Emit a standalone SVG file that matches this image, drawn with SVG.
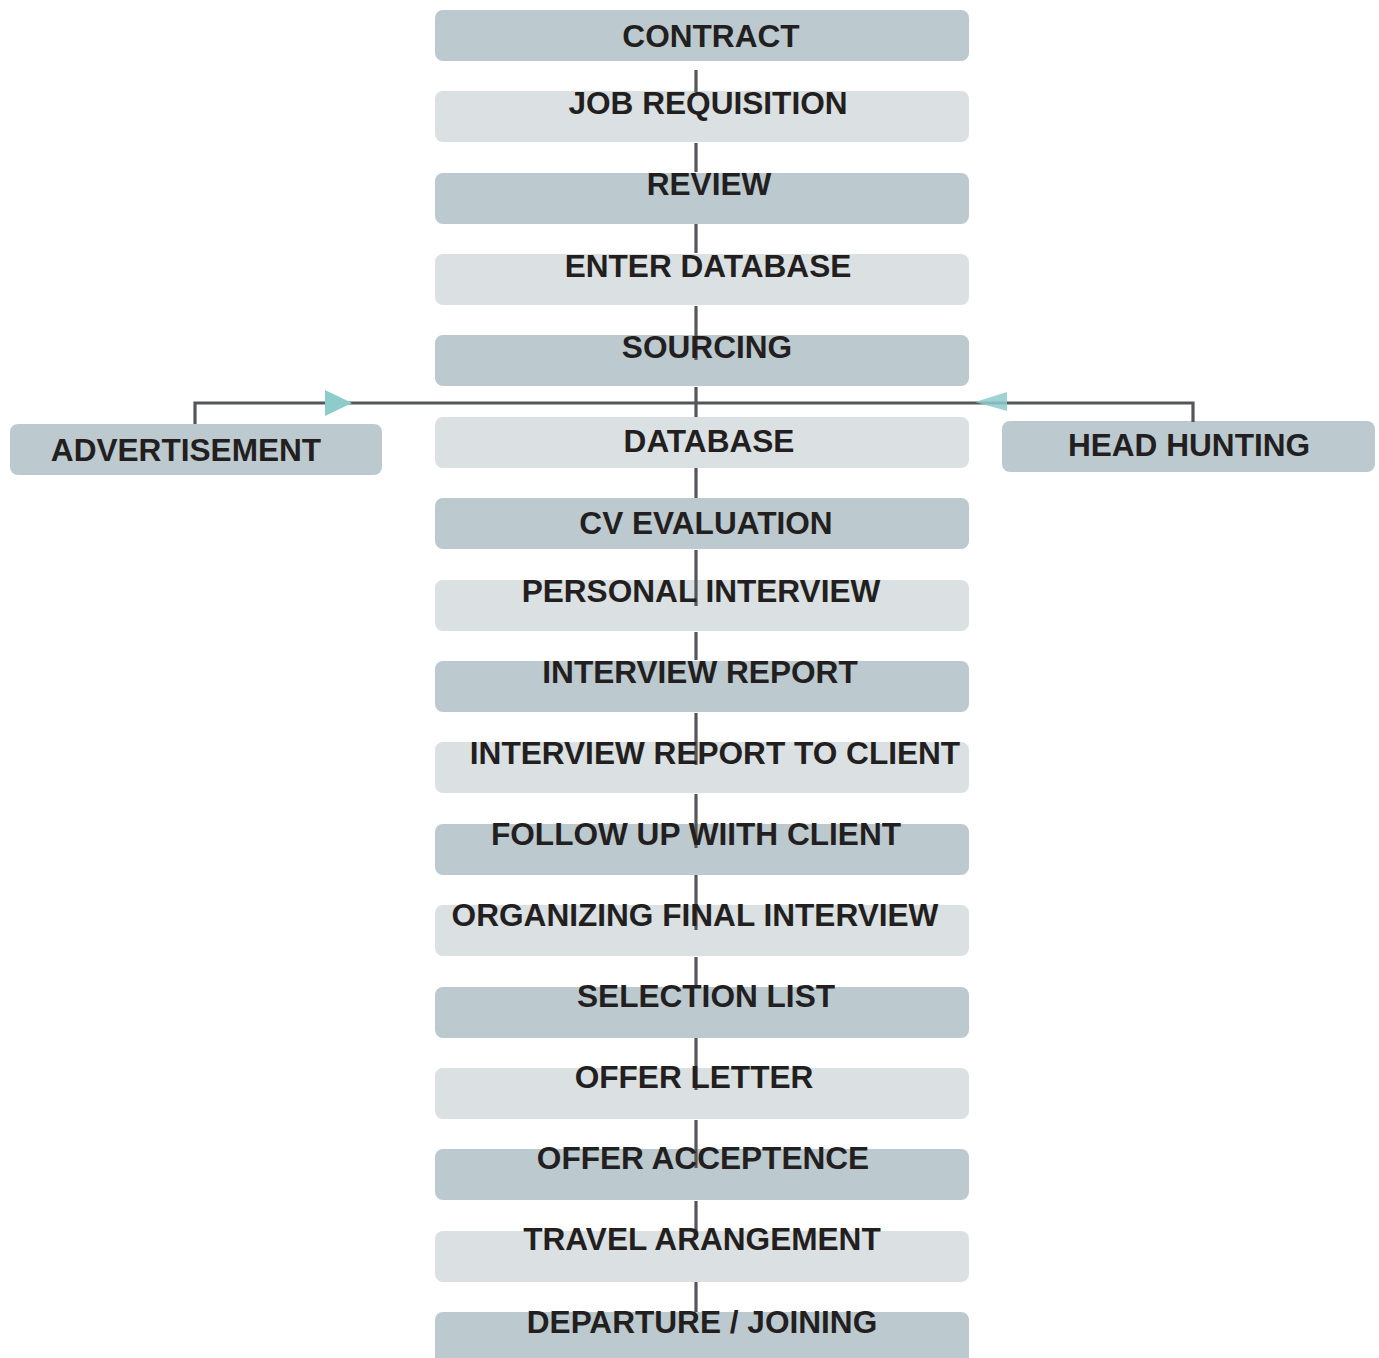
<svg xmlns="http://www.w3.org/2000/svg" width="1379" height="1358" viewBox="0 0 1379 1358">
<style>
.d{fill:#bccacf}
.l{fill:#dbe1e3}
.t{font-family:"Liberation Sans",Arial,sans-serif;font-weight:bold;font-size:31.6px;fill:#231f20;text-anchor:middle}
.c{stroke:#555659;stroke-width:3.2;fill:none}
.a{fill:#8ecbcb}
</style>
<rect width="1379" height="1358" fill="#ffffff"/>
<g id="boxes">
<g id="n1"><rect class="d" x="435" y="10" width="534" height="51" rx="8"/></g>
<g id="n2"><rect class="l" x="435" y="91" width="534" height="51" rx="8"/></g>
<g id="n3"><rect class="d" x="435" y="173" width="534" height="51" rx="8"/></g>
<g id="n4"><rect class="l" x="435" y="254" width="534" height="51" rx="8"/></g>
<g id="n5"><rect class="d" x="435" y="335" width="534" height="51" rx="8"/></g>
<g id="n6"><rect class="l" x="435" y="417" width="534" height="51" rx="8"/></g>
<g id="n7"><rect class="d" x="435" y="498" width="534" height="51" rx="8"/></g>
<g id="n8"><rect class="l" x="435" y="580" width="534" height="51" rx="8"/></g>
<g id="n9"><rect class="d" x="435" y="661" width="534" height="51" rx="8"/></g>
<g id="n10"><rect class="l" x="435" y="742" width="534" height="51" rx="8"/></g>
<g id="n11"><rect class="d" x="435" y="824" width="534" height="51" rx="8"/></g>
<g id="n12"><rect class="l" x="435" y="905" width="534" height="51" rx="8"/></g>
<g id="n13"><rect class="d" x="435" y="987" width="534" height="51" rx="8"/></g>
<g id="n14"><rect class="l" x="435" y="1068" width="534" height="51" rx="8"/></g>
<g id="n15"><rect class="d" x="435" y="1149" width="534" height="51" rx="8"/></g>
<g id="n16"><rect class="l" x="435" y="1231" width="534" height="51" rx="8"/></g>
<g id="n17"><rect class="d" x="435" y="1312" width="534" height="60" rx="8"/></g>
<g id="adv"><rect class="d" x="10" y="424" width="372" height="51" rx="8"/></g>
<g id="hh"><rect class="d" x="1002" y="421" width="373" height="51" rx="8"/></g>
</g>
<g id="connectors">
<path class="c" d="M696 70V92 M696 143V172 M696 224V253 M696 306V360 M696 387V417 M696 468V498 M696 550V606 M696 632V660 M696 713V765 M696 794V848 M696 875V930 M696 957V987 M696 1038V1090 M696 1120V1168 M696 1201V1238 M696 1282V1312"/>
<path class="c" d="M195 424V403H1193V422"/>
<polygon class="a" points="325,390 352,403 325,416"/>
<polygon class="a" points="1007,392 975,402 1007,411" opacity="0.85"/>
</g>
<g id="labels">
<text class="t" x="711" y="47">CONTRACT</text>
<text class="t" x="708" y="114">JOB REQUISITION</text>
<text class="t" x="709" y="195">REVIEW</text>
<text class="t" x="708" y="277">ENTER DATABASE</text>
<text class="t" x="707" y="358">SOURCING</text>
<text class="t" x="709" y="452">DATABASE</text>
<text class="t" x="706" y="534">CV EVALUATION</text>
<text class="t" x="701" y="602">PERSONAL INTERVIEW</text>
<text class="t" x="700" y="683">INTERVIEW REPORT</text>
<text class="t" x="715" y="764">INTERVIEW REPORT TO CLIENT</text>
<text class="t" x="696" y="845">FOLLOW UP WIITH CLIENT</text>
<text class="t" x="695" y="926">ORGANIZING FINAL INTERVIEW</text>
<text class="t" x="706" y="1007">SELECTION LIST</text>
<text class="t" x="694" y="1088">OFFER LETTER</text>
<text class="t" x="703" y="1169">OFFER ACCEPTENCE</text>
<text class="t" x="702" y="1250">TRAVEL ARANGEMENT</text>
<text class="t" x="702" y="1333">DEPARTURE / JOINING</text>
<text class="t" x="186" y="461">ADVERTISEMENT</text>
<text class="t" x="1189" y="456">HEAD HUNTING</text>
</g>
</svg>
